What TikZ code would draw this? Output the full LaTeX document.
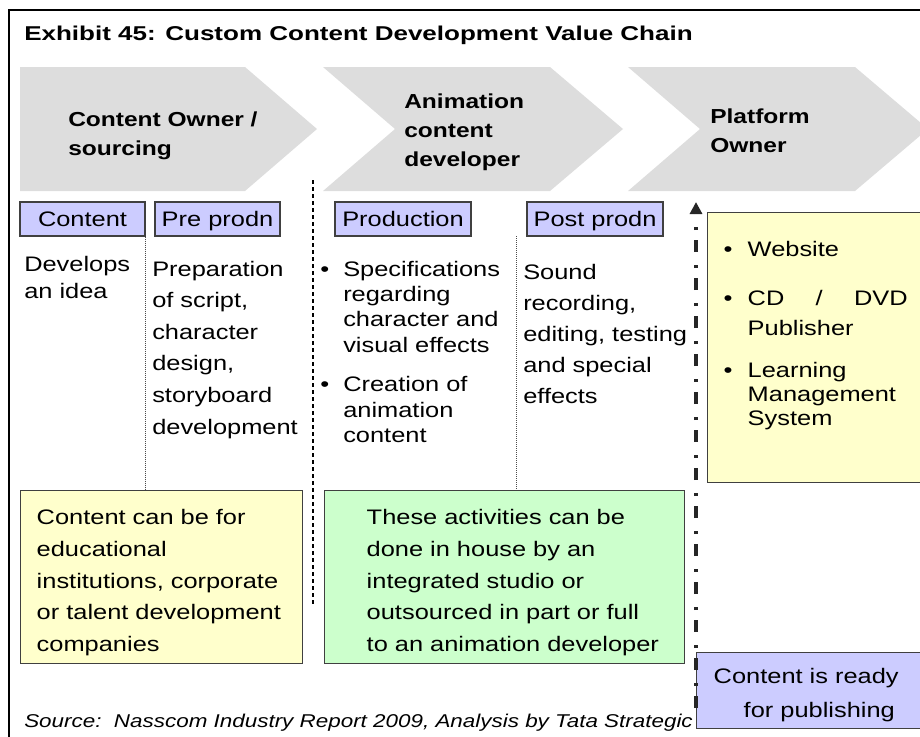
\documentclass[tikz,border=0pt]{standalone}
\usepackage{fontspec}
\setmainfont{Liberation Sans}[FakeStretch=1.21]
\newfontfamily\titlefont{Liberation Sans}[FakeStretch=1.3]
\usepackage{xcolor}
\usetikzlibrary{arrows.meta,positioning}

\definecolor{chevgray}{HTML}{DDDDDD}
\definecolor{tagblue}{HTML}{CCCCFF}
\definecolor{noteyellow}{HTML}{FFFFCC}
\definecolor{notegreen}{HTML}{CCFFCC}
\definecolor{edgegray}{HTML}{404040}

\begin{document}
\begin{tikzpicture}[
    x=0.75pt, y=-0.75pt,
    >=Stealth,
    chev/.style={fill=chevgray},
    stage/.style={font=\fontsize{15.2pt}{21.75pt}\selectfont\bfseries,
                  align=left, text width=150pt, inner sep=0pt, anchor=base west},
    tag/.style={draw=edgegray, line width=1.1pt, fill=tagblue,
                minimum height=25.5pt, minimum width=#1, inner sep=0pt,
                text height=11.5pt, text depth=1pt,
                font=\fontsize{15.75pt}{18pt}\selectfont},
    tag/.default=93.75pt,
    body/.style={font=\fontsize{15.75pt}{#1}\selectfont, align=left,
                 text width=150pt, inner sep=0pt, anchor=base west},
    body/.default=23.7pt,
    note/.style={draw=edgegray, line width=1.1pt, fill=#1, anchor=north west,
                 align=left, inner ysep=0pt},
    note/.default=noteyellow,
    sepdash/.style={black, line width=1.1pt, dash pattern=on 3pt off 2.25pt},
    sepdot/.style={black!70, line width=0.6pt, dash pattern=on 0.75pt off 0.75pt},
    publine/.style={-{Triangle[length=9pt,width=9pt]}, line width=2.7pt,
                    color=black!85, dash pattern=on 9pt off 7.5pt on 2.5pt off 9.5pt},
  ]
  \useasboundingbox (0,0) rectangle (920,736);

  % frame and title
  \draw[line width=1.5pt] (9,745) |- (930,10);
  \node[anchor=base west, inner sep=0pt, font=\titlefont\bfseries\fontsize{15pt}{18pt}\selectfont]
    (title) at (24,40) {Exhibit 45: Custom Content Development Value Chain};

  % chevrons
  \fill[chev] (20,67) -- (245,67) -- (317,129) -- (245,191) -- (20,191) -- cycle;
  \fill[chev] (323,67) -- (550,67) -- (623,129) -- (550,191) -- (323,191) -- (395,129) -- cycle;
  \fill[chev] (628,67) -- (855,67) -- (928,129) -- (855,191) -- (628,191) -- (700,129) -- cycle;
  \node[stage] (owner) at (68,126) {Content Owner /\\sourcing};
  \node[stage] (animdev) at (404,108) {Animation\\content\\developer};
  \node[stage] (platform) at (710,123) {Platform\\Owner};

  % activity tags
  \node[tag] (content) at (82.5,219) {Content};
  \node[tag] (preprodn) at (217.5,219) {Pre prodn};
  \node[tag=102pt] (production) at (403,219) {Production};
  \node[tag=102pt] (postprodn) at (595,219) {Post prodn};

  % activity texts
  \node[body=20.25pt] (idea) at (24,271) {Develops\\an idea};
  \node[body] (prep) at (152,276) {Preparation\\of script,\\character\\design,\\storyboard\\development};
  \node[body=19.1pt] (spec) at (320,276) {%
    \makebox[17.25pt][l]{\textbullet}Specifications\\
    \hspace*{17.25pt}regarding\\
    \hspace*{17.25pt}character and\\
    \hspace*{17.25pt}visual effects\\[10.5pt]
    \makebox[17.25pt][l]{\textbullet}Creation of\\
    \hspace*{17.25pt}animation\\
    \hspace*{17.25pt}content};
  \node[body=23.25pt] (post) at (523,279) {Sound\\recording,\\editing, testing\\and special\\effects};

  % boxes
  \node[note, text width=139.5pt, inner xsep=12pt, text height=33pt, text depth=169.5pt,
        font=\fontsize{15.75pt}{18pt}\selectfont] (outlets) at (707,212) {%
    \makebox[18pt][l]{\textbullet}Website\\[18.75pt]
    \makebox[18pt][l]{\textbullet}\makebox[120pt][l]{CD\hfill/\hfill DVD}\\[4.5pt]
    \hspace*{18pt}Publisher\\[13.5pt]
    \makebox[18pt][l]{\textbullet}Learning\\
    \hspace*{18pt}Management\\
    \hspace*{18pt}System};
  \node[note, text width=187.5pt, inner xsep=12pt, text height=25.5pt, text depth=104.25pt,
        font=\fontsize{15.75pt}{23.75pt}\selectfont] (clients) at (20,490)
    {Content can be for\\educational\\institutions, corporate\\or talent development\\companies};
  \node[note=notegreen, text width=207pt, inner xsep=31.5pt, text height=25.5pt, text depth=104.25pt,
        font=\fontsize{15.75pt}{23.75pt}\selectfont] (inhouse) at (324,490)
    {\mbox{These activities can be}\\\mbox{done in house by an}\\\mbox{integrated studio or}\\
     \mbox{outsourced in part or full}\\\mbox{to an animation developer}};
  \node[note=tagblue, text width=150pt, inner xsep=12.75pt, text height=23.25pt, text depth=33.75pt,
        font=\fontsize{15.75pt}{25.5pt}\selectfont] (ready) at (696,652)
    {Content is ready\\\hspace*{22.5pt}for publishing};

  % separators
  \draw[sepdot] (content.south east) -- (content.south east |- clients.north);
  \coordinate (postsep) at (516,236);
  \draw[sepdot] (postsep) -- (postsep |- inhouse.north);
  \coordinate (stagetop) at (313,180);
  \coordinate (stagefoot) at (313,605);
  \draw[sepdash] (stagetop) -- (stagefoot);
  \coordinate (pubfoot) at (696,708);
  \coordinate (pubtip) at (696,202);
  \draw[publine] (pubfoot) -- (pubtip);

  % source
  \node[anchor=base west, inner sep=0pt, font=\itshape\fontsize{13.9pt}{16pt}\selectfont]
    (source) at (24,727) {Source:\ \ Nasscom Industry Report 2009, Analysis by Tata Strategic};
\end{tikzpicture}
\end{document}
